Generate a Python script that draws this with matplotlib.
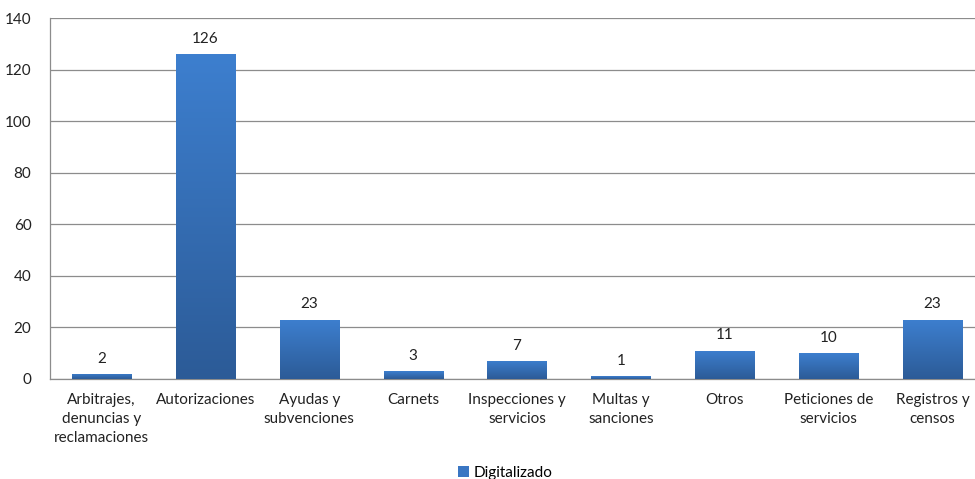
import matplotlib
matplotlib.use("Agg")
import matplotlib.pyplot as plt
import numpy as np
from matplotlib.colors import LinearSegmentedColormap
from matplotlib.patches import Patch

categories = ["Arbitrajes,\ndenuncias y\nreclamaciones", "Autorizaciones", "Ayudas y\nsubvenciones",
              "Carnets", "Inspecciones y\nservicios", "Multas y\nsanciones", "Otros",
              "Peticiones de\nservicios", "Registros y\ncensos"]
values = [2, 126, 23, 3, 7, 1, 11, 10, 23]
series_name = "Digitalizado"
yticks = [0, 20, 40, 60, 80, 100, 120, 140]

plt.rcParams['font.family'] = ['Lato', 'DejaVu Sans']

fig = plt.figure(figsize=(9.75, 4.79), dpi=100)
ax = fig.add_axes([49.5/975, 100/479, 935/975, 361/479])

x = np.arange(len(categories))
bars = ax.bar(x, values, width=0.57, color='#3a76c3', zorder=2)
cmap = LinearSegmentedColormap.from_list('g', ['#2c5b97', '#3d7fcf'])
grad = np.linspace(0, 1, 256).reshape(-1, 1)
for b in bars:
    x0, y0, w, h = b.get_x(), b.get_y(), b.get_width(), b.get_height()
    im = ax.imshow(grad, extent=[x0, x0 + w, y0, y0 + h], origin='lower', cmap=cmap,
                   aspect='auto', zorder=3)
    im.set_clip_path(b)
    ax.text(x0 + w / 2, h + 3.2, str(int(h)), ha='center', va='bottom', fontsize=11,
            color='#222222', zorder=4)

ax.set_xlim(-0.5, len(categories) - 0.5)
ax.set_ylim(0, 140)
ax.set_yticks(yticks)
ax.set_xticks(x)
ax.set_xticklabels(categories, fontsize=11, color='#222222', linespacing=1.45)
ax.tick_params(axis='y', labelsize=11, colors='#222222', length=0, pad=13)
ax.tick_params(axis='x', length=0, pad=10)
ax.grid(axis='y', color='#8c8c8c', linewidth=0.9, zorder=0)
for s in ['top', 'right']:
    ax.spines[s].set_visible(False)
for s in ['left', 'bottom']:
    ax.spines[s].set_color('#8c8c8c')
    ax.spines[s].set_linewidth(0.9)

handle = Patch(facecolor='#3a76c3', edgecolor='none')
fig.legend([handle], [series_name], loc='center', bbox_to_anchor=(505/975, 1 - 473/479),
           frameon=False, fontsize=11, handlelength=0.7, handleheight=0.7,
           handletextpad=0.3)

fig.savefig('out.png', dpi=100)
